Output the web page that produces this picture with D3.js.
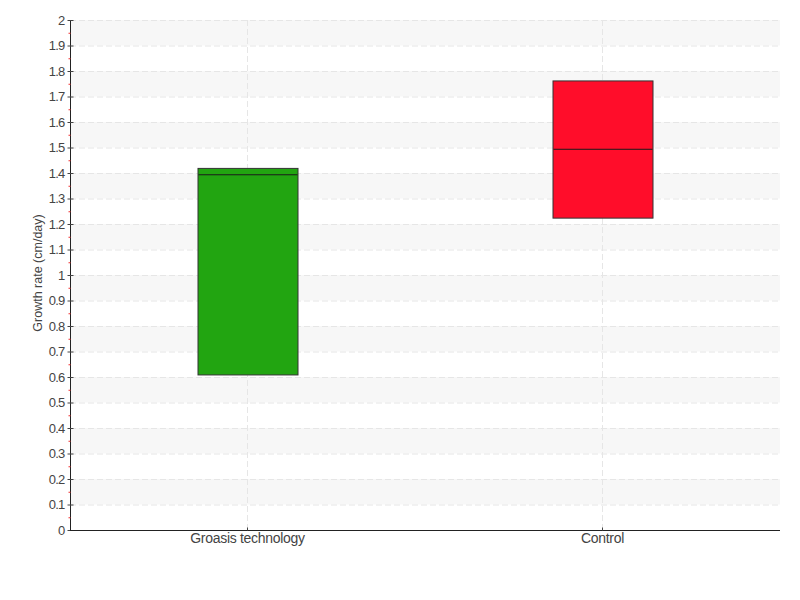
<!DOCTYPE html>
<html><head><meta charset="utf-8">
<script src="https://cdn.jsdelivr.net/npm/d3@7"></script>
<style>body{margin:0;background:#fff}svg{display:block}text{font-family:"Liberation Sans",Arial,sans-serif;fill:#444;}</style>
</head><body><svg id="c" width="800" height="600"></svg>
<script>
const categories = ["Groasis technology", "Control"];
const q1Values = [0.61, 1.225];
const medianValues = [1.395, 1.495];
const q3Values = [1.42, 1.763];
const boxColors = ["#22a511", "#ff0d2a"];
const yTicks = d3.range(0, 21).map(i => +(i / 10).toFixed(1));
const yMinorTicks = d3.range(0, 20).map(i => +(i / 10 + 0.05).toFixed(2));
const yTitle = "Growth rate (cm/day)";

const svg = d3.select("#c");
const L = 70, R = 780, T = 20, B = 530;
const x = d3.scaleBand().domain(categories).range([L, R]);
const y = d3.scaleLinear().domain([0, 2]).range([B, T]);

// alternating bands
const bands = d3.range(1, 20, 2).map(i => i / 10);
svg.append("g").selectAll("rect").data(bands).join("rect")
  .attr("x", L).attr("width", R - L)
  .attr("y", d => y(d + 0.1)).attr("height", d => y(d) - y(d + 0.1))
  .attr("fill", "#f7f7f7");

// horizontal grid
svg.append("g").selectAll("line").data(yTicks.filter(d => d > 0)).join("line")
  .attr("x1", L).attr("x2", R).attr("y1", d => y(d) + 0.5).attr("y2", d => y(d) + 0.5)
  .attr("stroke", "#e6e6e6").attr("stroke-dasharray", "6,3");
// vertical grid
svg.append("g").selectAll("line").data(categories).join("line")
  .attr("x1", d => x(d) + x.bandwidth() / 2).attr("x2", d => x(d) + x.bandwidth() / 2)
  .attr("y1", T).attr("y2", B)
  .attr("stroke", "#e6e6e6").attr("stroke-dasharray", "6,3");

// boxes
const boxW = 100;
const g = svg.append("g");
categories.forEach((c, i) => {
  const cx = x(c) + x.bandwidth() / 2;
  g.append("rect").attr("x", cx - boxW / 2 + 0.5).attr("width", boxW)
    .attr("y", y(q3Values[i]) + 0.5).attr("height", y(q1Values[i]) - y(q3Values[i]))
    .attr("fill", boxColors[i]).attr("stroke", "#333").attr("stroke-width", 1);
  g.append("line").attr("x1", cx - boxW / 2 + 1).attr("x2", cx + boxW / 2)
    .attr("y1", y(medianValues[i]) + 0.5).attr("y2", y(medianValues[i]) + 0.5)
    .attr("stroke", "#1a1a1a").attr("stroke-width", 1);
});

// y axis
const ya = svg.append("g").attr("transform", `translate(${L + 0.5},0)`);
ya.append("line").attr("y1", T).attr("y2", B).attr("stroke", "#222");
ya.selectAll("line.mj").data(yTicks).join("line").attr("class", "mj")
  .attr("x1", -3).attr("x2", 3).attr("y1", d => y(d) + 0.5).attr("y2", d => y(d) + 0.5)
  .attr("stroke", "#444");
ya.selectAll("line.mn").data(yMinorTicks).join("line").attr("class", "mn")
  .attr("x1", -2).attr("x2", 0).attr("y1", d => y(d) + 0.5).attr("y2", d => y(d) + 0.5)
  .attr("stroke", "#f03030");
ya.selectAll("text").data(yTicks).join("text")
  .attr("x", -6).attr("y", d => y(d)).attr("dy", "0.35em")
  .attr("text-anchor", "end").attr("font-size", 13).attr("letter-spacing", "-0.8px")
  .text(d => d3.format("~g")(d));

// x axis
const xa = svg.append("g").attr("transform", `translate(0,${B + 0.5})`);
xa.append("line").attr("x1", L).attr("x2", R).attr("stroke", "#222");
xa.selectAll("line.t").data(categories).join("line").attr("class", "t")
  .attr("x1", d => x(d) + x.bandwidth() / 2).attr("x2", d => x(d) + x.bandwidth() / 2)
  .attr("y1", -3).attr("y2", 0).attr("stroke", "#444");
xa.selectAll("text").data(categories).join("text")
  .attr("x", d => x(d) + x.bandwidth() / 2).attr("y", 3).attr("dy", "0.71em")
  .attr("text-anchor", "middle").attr("font-size", 14).attr("letter-spacing", "-0.3px").text(d => d);

svg.append("text").attr("transform", `translate(38,${(T + B) / 2 - 2}) rotate(-90)`)
  .attr("dy", "0.35em")
  .attr("text-anchor", "middle").attr("font-size", 12.5).text(yTitle);
</script></body></html>
